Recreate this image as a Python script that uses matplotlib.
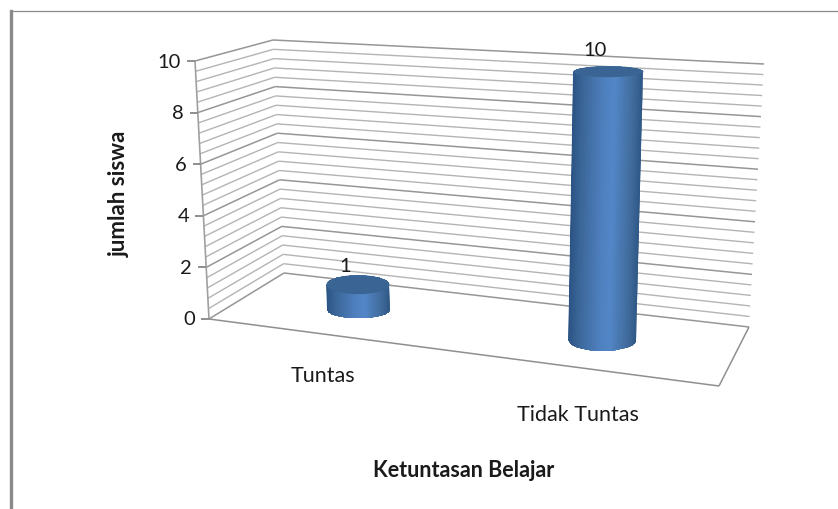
import numpy as np
import matplotlib
matplotlib.use("Agg")
import matplotlib.pyplot as plt
from matplotlib.colors import LinearSegmentedColormap
from matplotlib.patches import Polygon

# ---- data ----
categories = ["Tuntas", "Tidak Tuntas"]
values = [1, 10]
y_ticks = [0, 2, 4, 6, 8, 10]
y_grid_step = 0.4
x_title = "Ketuntasan Belajar"
y_title = "jumlah siswa"

# ---- layout: corners of the 3D box as seen in the picture ----
BOX = {  # (u: 0 left..1 right, w: 0 front..1 back, top: v=vmax)
    (0, 0, 0): (209, 320), (1, 0, 0): (719, 387),
    (0, 1, 0): (284, 274), (1, 1, 0): (749, 328),
    (0, 0, 1): (195, 62),  (1, 0, 1): (730, 96),
    (0, 1, 1): (273, 41),  (1, 1, 1): (764, 65),
}
VMAX = 10.0
bar_u = [0.23, 0.73]
bar_w = 0.5
bar_rx = [(31.5, 31.5), (34, 35)]      # half width at base / top
bar_ry = [(8.5, 9.5), (11, 5.5)]       # half ellipse height at base / top
label_off = [(-13, -19), (-13, -22)]
cat_off = [(-3, 41), (-3, 46)]
GRID_MINOR, GRID_MAJOR, TEXT = "#b4b4b4", "#969696", "#1a1a1a"
FONT = "Lato"
TICK_SIZE, CAT_SIZE, TITLE_SIZE, YTITLE_SIZE = 14.5, 15.5, 15.5, 16


def project(u, w, v):
    t = v / VMAX
    out = np.zeros(2)
    for a in (0, 1):
        for b in (0, 1):
            for c in (0, 1):
                weight = (u if a else 1 - u) * (w if b else 1 - w) * (t if c else 1 - t)
                out += weight * np.array(BOX[(a, b, c)])
    return out


fig = plt.figure(figsize=(8.38, 5.10), dpi=100, facecolor="white")
ax = fig.add_axes([0, 0, 1, 1])
ax.set_xlim(0, 838)
ax.set_ylim(510, 0)
ax.axis("off")

# outer chart border
ax.plot([10.5, 10.5, 838], [510, 11.5, 11.5], color="#8a8a8a", lw=0.9, zorder=1)
ax.plot([10.5, 10.5], [11.5, 510], color="#8a8a8a", lw=2.4, zorder=1)


def seg(p, q, **kw):
    ax.plot([p[0], q[0]], [p[1], q[1]], solid_capstyle="butt", **kw)


# gridlines on side wall and back wall
n_grid = int(round(VMAX / y_grid_step))
for i in range(n_grid + 1):
    v = i * y_grid_step
    major = i % 5 == 0
    col, lw = (GRID_MAJOR, 1.1) if major else (GRID_MINOR, 1.0)
    seg(project(0, 0, v), project(0, 1, v), color=col, lw=lw, zorder=2)
    seg(project(0, 1, v), project(1, 1, v), color=col, lw=lw, zorder=2)

# axis edge, floor
seg(project(0, 0, 0), project(0, 0, VMAX), color="#a0a0a0", lw=1.2, zorder=3)
seg(project(0, 0, 0), project(1, 0, 0), color="#8f8f8f", lw=1.1, zorder=3)
seg(project(1, 0, 0), project(1, 1, 0), color="#8f8f8f", lw=1.1, zorder=3)

# value ticks and labels
for v in y_ticks:
    p = project(0, 0, v)
    seg(p - np.array([8, 0]), p, color="#8f8f8f", lw=1.4, zorder=3)
    ax.text(p[0] - 14, p[1], str(v), ha="right", va="center", fontsize=TICK_SIZE,
            family=FONT, color=TEXT, zorder=6)

# cylinders
cmap = LinearSegmentedColormap.from_list(
    "cyl",
    [(0.0, "#2c5485"), (0.14, "#3b6698"), (0.45, "#4f80bf"), (0.6, "#5387c8"),
     (0.85, "#426e9f"), (1.0, "#2f5886")],
)
th = np.linspace(0, np.pi, 60)
for val, u, rx, ry, lo, name, co in zip(values, bar_u, bar_rx, bar_ry, label_off,
                                        categories, cat_off):
    base = project(u, bar_w, 0)
    top = project(u, bar_w, val)
    lower = np.c_[base[0] + rx[0] * np.cos(th), base[1] + ry[0] * np.sin(th)]
    upper = np.c_[top[0] - rx[1] * np.cos(th), top[1] - ry[1] * np.sin(th)]
    outline = Polygon(np.r_[lower, upper], closed=True, transform=ax.transData,
                      fc="none", ec="none")
    ax.add_patch(outline)
    s = np.linspace(0, 1, 40)
    X = np.array([base[0] - rx[0] + 2 * rx[0] * s, top[0] - rx[1] + 2 * rx[1] * s])
    Y = np.array([np.full_like(s, base[1] + ry[0] + 1), np.full_like(s, top[1] - ry[1] - 1)])
    mesh = ax.pcolormesh(X, Y, np.vstack([s, s]), cmap=cmap, vmin=0, vmax=1,
                         shading="gouraud", zorder=4)
    mesh.set_clip_path(outline)
    t2 = np.linspace(0, 2 * np.pi, 100)
    ax.fill(top[0] + rx[1] * np.cos(t2), top[1] + ry[1] * np.sin(t2),
            color="#3a6493", lw=0, zorder=5)
    ax.text(top[0] + lo[0], top[1] + lo[1], str(val), ha="center", va="center",
            fontsize=TICK_SIZE, family=FONT, color=TEXT, zorder=6)
    f = project(u, 0, 0)
    ax.text(f[0] + co[0], f[1] + co[1], name, ha="center", va="center",
            fontsize=CAT_SIZE, family=FONT, color=TEXT, zorder=6)

ax.text(464, 471, x_title, ha="center", va="center", fontsize=TITLE_SIZE, family=FONT,
        fontweight="bold", color=TEXT)
ax.text(119, 194, y_title, ha="center", va="center", rotation=90, fontsize=YTITLE_SIZE,
        family=FONT, fontweight="bold", color=TEXT)

fig.savefig("out.png", dpi=100, facecolor="white")
